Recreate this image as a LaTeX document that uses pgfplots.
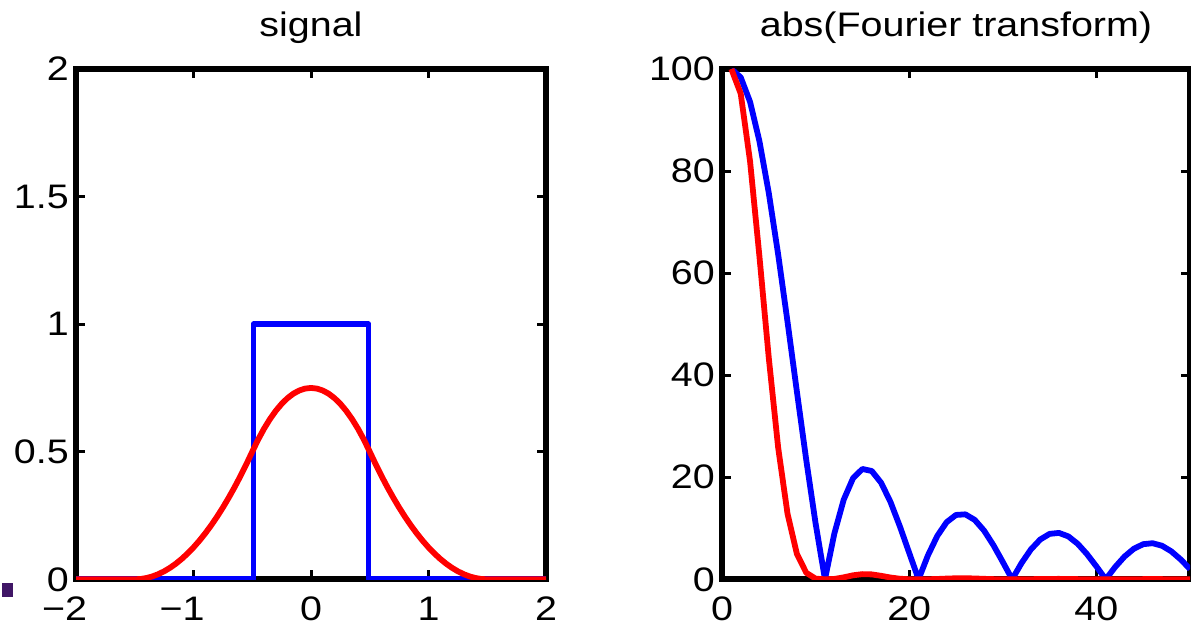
\documentclass[border=0pt]{standalone}
\usepackage{fontspec}
\setmainfont[FakeStretch=1.16]{Liberation Sans}
\usepackage{pgfplots}
\pgfplotsset{compat=1.18}
\definecolor{mblue}{RGB}{0,0,255}
\definecolor{mred}{RGB}{255,0,0}
\definecolor{mpurple}{RGB}{64,22,102}

\pgfplotsset{
  myaxis/.style={
    scale only axis,
    height=510.3bp,
    axis line style={line width=6.3bp, black},
    tick style={line width=3bp, black},
    major tick length=9bp,
    tick align=inside,
    ticklabel style={font=\fontsize{34bp}{40bp}\selectfont},
    xticklabel style={anchor=base, inner sep=0pt, yshift=-41bp},
    yticklabel style={anchor=east, inner sep=0pt, xshift=-7bp},
    title style={font=\fontsize{34bp}{40bp}\selectfont, at={(0.5,1)}, anchor=base, yshift=27bp, inner sep=0pt},
    /pgf/number format/assume math mode=true,
    every axis plot/.append style={line width=5.8bp, line join=round},
  }
}

\begin{document}
\begin{tikzpicture}
\begin{axis}[myaxis, at={(76bp,45.7bp)}, width=470bp,
  xmin=-2, xmax=2, ymin=0, ymax=2,
  xtick={-2,-1,0,1,2}, xticklabels={\llap{−}2,\llap{−}1,0,1,2},
  ytick={0,0.5,1,1.5,2}, yticklabels={0,0.5,1,1.5,2},
  title={signal}]
\addplot[mblue] coordinates {(-2,0) (-0.49,0) (-0.49,1) (0.49,1) (0.49,0) (2,0)};
\addplot[mred] coordinates {
(-2,0) (-1.5,0) (-1.45,0.00125) (-1.4,0.005) (-1.35,0.01125) (-1.3,0.02) (-1.25,0.03125)
(-1.2,0.045) (-1.15,0.06125) (-1.1,0.08) (-1.05,0.10125) (-1.0,0.125) (-0.95,0.15125)
(-0.9,0.18) (-0.85,0.21125) (-0.8,0.245) (-0.75,0.28125) (-0.7,0.32) (-0.65,0.36125)
(-0.6,0.405) (-0.55,0.45125) (-0.5,0.5) (-0.45,0.5475) (-0.4,0.59) (-0.35,0.6275)
(-0.3,0.66) (-0.25,0.6875) (-0.2,0.71) (-0.15,0.7275) (-0.1,0.74) (-0.05,0.7475)
(0,0.75)
(0.05,0.7475) (0.1,0.74) (0.15,0.7275) (0.2,0.71) (0.25,0.6875) (0.3,0.66)
(0.35,0.6275) (0.4,0.59) (0.45,0.5475) (0.5,0.5) (0.55,0.45125) (0.6,0.405)
(0.65,0.36125) (0.7,0.32) (0.75,0.28125) (0.8,0.245) (0.85,0.21125) (0.9,0.18)
(0.95,0.15125) (1.0,0.125) (1.05,0.10125) (1.1,0.08) (1.15,0.06125) (1.2,0.045)
(1.25,0.03125) (1.3,0.02) (1.35,0.01125) (1.4,0.005) (1.45,0.00125) (1.5,0) (2,0)};
\end{axis}
\begin{axis}[myaxis, at={(722bp,45.7bp)}, width=468bp,
  xmin=0, xmax=50, ymin=0, ymax=100,
  xtick={0,20,40}, ytick={0,20,40,60,80,100},
  title={abs(Fourier transform)}]
\addplot[mblue] coordinates {
(1,100) (2,98.36) (3,93.55) (4,85.84) (5,75.68) (6,63.66) (7,50.46) (8,36.79) (9,23.39) (10,10.93)
(11,0) (12,8.94) (13,15.59) (14,19.81) (15,21.62) (16,21.22) (17,18.92) (18,15.15) (19,10.39) (20,5.18)
(21,0) (22,4.68) (23,8.50) (24,11.20) (25,12.61) (26,12.73) (27,11.64) (28,9.54) (29,6.68) (30,3.39)
(31,0) (32,3.17) (33,5.85) (34,7.80) (35,8.90) (36,9.09) (37,8.41) (38,6.96) (39,4.92) (40,2.52)
(41,0) (42,2.40) (43,4.45) (44,5.99) (45,6.88) (46,7.07) (47,6.58) (48,5.48) (49,3.90) (50,2.01)};
\addplot[mred] coordinates {
(1,100) (2,95.16) (3,81.87) (4,63.25) (5,43.35) (6,25.80) (7,12.85) (8,4.98) (9,1.28) (10,0.13)
(11,0) (12,0.07) (13,0.38) (14,0.78) (15,1.01) (16,0.96) (17,0.68) (18,0.35) (19,0.11) (20,0.01)
(21,0) (22,0.01) (23,0.06) (24,0.14) (25,0.20) (26,0.21) (27,0.16) (28,0.09) (29,0.03) (30,0)
(31,0) (32,0) (33,0.02) (34,0.05) (35,0.07) (36,0.08) (37,0.06) (38,0.03) (39,0.01) (40,0)
(41,0) (42,0) (43,0.01) (44,0.02) (45,0.03) (46,0.04) (47,0.03) (48,0.02) (49,0.01) (50,0)};
\end{axis}
\fill[mpurple] (2bp,28.3bp) rectangle (12.7bp,42bp);
\pgfresetboundingbox
\path[use as bounding box] (0,0) rectangle (1191bp,625bp);
\end{tikzpicture}
\end{document}
